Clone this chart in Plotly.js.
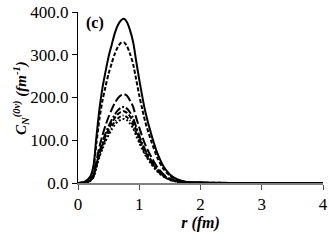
<!DOCTYPE html>
<html>
<head>
<meta charset="utf-8">
<script src="https://cdn.plot.ly/plotly-3.0.1.min.js"></script>
<style>
html,body{margin:0;padding:0;background:#fff;}
#chart{width:329px;height:242px;}
</style>
</head>
<body>
<div id="chart"></div>
<script>
const r = [0, 0.1, 0.2, 0.25, 0.3, 0.35, 0.4, 0.45, 0.5, 0.55, 0.6, 0.65, 0.7, 0.75, 0.8, 0.85, 0.9, 0.95, 1.0, 1.05, 1.1, 1.2, 1.3, 1.4, 1.5, 1.6, 1.7, 1.8, 2.0, 2.5, 3.0, 4.0];
const seriesA = [0, 2, 15, 38, 107, 173, 223, 261, 296, 323, 350, 369, 380, 384, 376, 357, 330, 285, 242, 202, 166, 112, 68, 38, 20, 10, 5, 2, 1, 0.2, 0, 0];
const seriesB = [0, 2, 12, 33, 92, 150, 193, 226, 256, 280, 302, 318, 328, 329, 320, 302, 278, 242, 205, 172, 142, 96, 58, 32, 17, 8, 4, 2, 1, 0.2, 0, 0];
const seriesC = [0, 1, 7, 18, 50, 85, 112, 135, 155, 172, 187, 198, 205, 208, 204, 193, 178, 153, 130, 108, 89, 60, 36, 20, 10, 5, 2.5, 1.2, 0.5, 0.1, 0, 0];
const seriesD = [0, 1, 6, 16, 43, 72, 96, 116, 133, 148, 160, 170, 176, 178, 174, 165, 152, 131, 111, 93, 77, 52, 31, 17, 9, 4.5, 2.2, 1, 0.4, 0.1, 0, 0];
const seriesE = [0, 1, 6, 15, 41, 68, 90, 110, 126, 140, 152, 161, 166, 168, 164, 156, 143, 124, 105, 88, 73, 49, 29, 16, 8, 4, 2, 1, 0.4, 0.1, 0, 0];
const seriesF = [0, 1, 5, 14, 38, 64, 85, 103, 118, 132, 143, 151, 156, 158, 154, 146, 135, 116, 99, 83, 68, 46, 28, 15, 8, 4, 2, 1, 0.3, 0.1, 0, 0];
const seriesG = [0, 1, 5, 13, 37, 61, 80, 98, 112, 125, 136, 144, 148, 150, 147, 139, 128, 110, 94, 79, 65, 44, 26, 15, 7, 3.5, 1.8, 0.9, 0.3, 0.1, 0, 0];
const yTicks = [0, 100, 200, 300, 400];
const yTickLabels = ['0.0', '100.0', '200.0', '300.0', '400.0'];
const xTicks = [0, 1, 2, 3, 4];
const xTickLabels = ['0', '1', '2', '3', '4'];

const styles = [
  {y: seriesA, dash: 'solid', width: 2},
  {y: seriesB, dash: '4px,2px', width: 2},
  {y: seriesC, dash: '9px,3px', width: 2},
  {y: seriesD, dash: '8px,2px,2px,2px', width: 2},
  {y: seriesE, dash: '5px,2px', width: 2},
  {y: seriesF, dash: '4px,2px,1px,2px', width: 2},
  {y: seriesG, dash: '2px,2px', width: 2}
];
const traces = styles.map(s => ({
  x: r, y: s.y, type: 'scatter', mode: 'lines',
  line: {color: '#000', width: s.width, dash: s.dash, shape: 'spline', smoothing: 0.8},
  hoverinfo: 'none', showlegend: false
}));

const fam = 'Liberation Serif';
const tickFont = {family: fam, size: 17, color: '#000'};
const titleFont = {family: fam, size: 15, color: '#000'};
const layout = {
  width: 329, height: 242,
  margin: {l: 78, r: 6, t: 12, b: 59},
  paper_bgcolor: '#fff', plot_bgcolor: '#fff',
  font: titleFont,
  showlegend: false,
  xaxis: {
    range: [0, 4], tickvals: xTicks, ticktext: xTickLabels,
    showgrid: false, zeroline: false, showline: true, linecolor: '#808080', linewidth: 1.5,
    ticks: 'outside', ticklen: 5, tickcolor: '#505050', tickwidth: 1,
    tickfont: tickFont,
    title: {text: '<b><i>r (fm)</i></b>', font: {family: fam, size: 16, color: '#000'}, standoff: 4}
  },
  yaxis: {
    range: [0, 400], tickvals: yTicks, ticktext: yTickLabels,
    showgrid: false, zeroline: false, showline: true, linecolor: '#000', linewidth: 1,
    ticks: 'outside', ticklen: 5, tickcolor: '#000', tickwidth: 1,
    tickfont: tickFont
  },
  annotations: [
    {text: '<b><i>C<sub>N</sub><sup>(0ν)</sup> (fm<sup>-1</sup>)</i></b>', xref: 'paper', yref: 'paper',
     x: -0.235, y: 0.5, xanchor: 'center', yanchor: 'middle', textangle: -90, showarrow: false, font: titleFont},
    {text: '<b>(c)</b>', xref: 'paper', yref: 'paper', x: 0.07, y: 1.0, xanchor: 'center', yanchor: 'top',
     showarrow: false, font: {family: fam, size: 16, color: '#000'}}
  ]
};
Plotly.newPlot('chart', traces, layout, {staticPlot: true, displayModeBar: false});
</script>
</body>
</html>
